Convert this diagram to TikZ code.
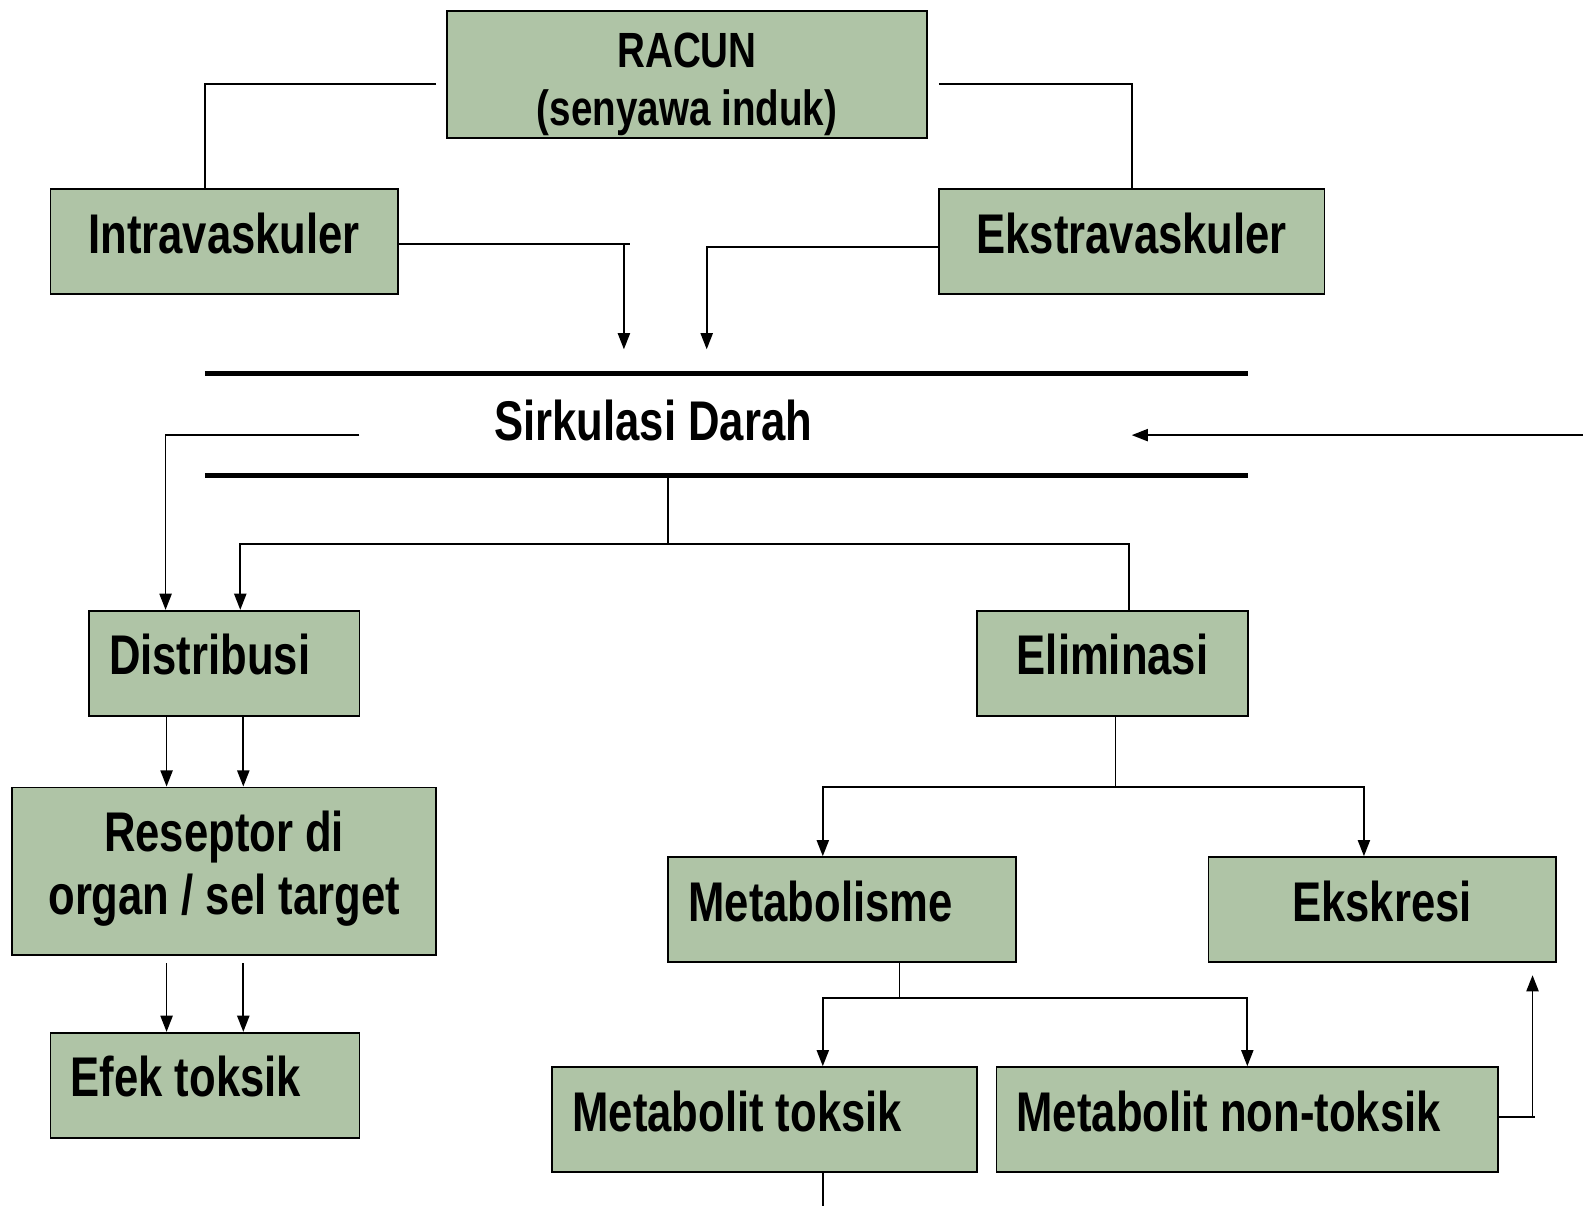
\documentclass[tikz,border=0pt]{standalone}
\usepackage{fontspec}
\setmainfont{Liberation Sans}[FakeStretch=0.78]
\usetikzlibrary{arrows.meta}
\definecolor{boxgreen}{HTML}{AFC4A6}

\begin{document}
\begin{tikzpicture}[
  x=0.5pt, y=-0.5pt,
  font=\fontsize{27.7}{31.5}\selectfont\bfseries,
  box/.style={draw=black, line width=0.9pt, fill=boxgreen, inner sep=0pt,
              align=center, minimum height=52pt,
              text height=19.8pt, text depth=8.5pt},
  boxl/.style={box, inner xsep=10pt, align=flush left, text width=#1},
  ln/.style={line width=0.9pt},
  arr/.style={ln, -{Triangle[length=8pt, width=6pt]}},
  band/.style={line width=2.6pt},
]
\path[use as bounding box, fill=white] (0,0) rectangle (1568,1194);

% ---------------- top ----------------------------------------------
\node[box, minimum width=237.5pt, minimum height=63pt, text height=50pt,
      text depth=0pt, font=\fontsize{24.5}{28.8}\selectfont\bfseries]
  (racun) at (680.5,74) {RACUN\\(senyawa induk)};
\node[box, minimum width=172pt] (intra) at (222,239.5) {Intravaskuler};
\node[box, minimum width=191pt] (ekstra) at (1121,239.5) {Ekstravaskuler};

% ---------------- blood circulation --------------------------------
\draw[band] (203,370) -- (1236,370);
\draw[band] (203,471) -- (1236,471);
\node[anchor=base] (sirk) at (647,436) {Sirkulasi Darah};

% ---------------- distribution side --------------------------------
\node[boxl=114pt] (distri) at (222,657) {Distribusi};
\node[box, minimum width=210pt, minimum height=83pt, text height=48pt,
      text depth=5pt] (resep) at (222,863) {Reseptor di\\organ / sel target};
\node[boxl=133pt] (efek) at (203,1075) {Efek toksik};

% ---------------- elimination side ---------------------------------
\node[box, minimum width=134pt] (elim) at (1102,657) {Eliminasi};
\node[boxl=152pt] (metab) at (834,901) {Metabolisme};
\node[box, minimum width=172pt] (ekskr) at (1369,901) {Ekskresi};
\node[boxl=190.5pt] (mtoks) at (757.5,1109) {Metabolit toksik};
\node[boxl=228.5pt] (mnon) at (1235.5,1109) {Metabolit non-toksik};

% ---------------- free ends ----------------------------------------
\coordinate (rl) at (432,83);
\coordinate (rr) at (930,83);
\coordinate (inA) at (618,346);
\coordinate (inB) at (700,346);
\coordinate (inR) at (1568,431);
\coordinate (inRt) at (1121,431);
\coordinate (sl) at (356,431);
\coordinate (sb) at (662,471);
\coordinate (sj) at (662,539);
\coordinate (ej) at ([xshift=1.5pt, yshift=-35pt]elim.south);
\coordinate (mj) at ([xshift=28.5pt, yshift=-17.5pt]metab.south);

% ---------------- flow ---------------------------------------------
\draw[ln] (rl) -| ([xshift=-9.5pt]intra.north);
\draw[ln] (rr) -| (ekstra.north);
\draw[ln] ([yshift=-1.25pt]intra.east) -- ++(229,0);
\draw[arr] ([yshift=-1.25pt]intra.east) -| (inA);
\draw[arr] ([yshift=-2.75pt]ekstra.west) -| (inB);
\draw[arr] (inR) -- (inRt);

\draw[arr] (sl) -| ([xshift=-29pt]distri.north);
\draw[ln] (sb) -- (sj);
\draw[arr] ([xshift=8pt]elim.north) |- ([xshift=8pt]distri.north |- sj)
  -- ([xshift=8pt]distri.north);

\foreach \dx in {-28.5,9.5}
  \draw[arr] ([xshift=\dx pt]distri.south) -- ([xshift=\dx pt]resep.north);
\foreach \dx in {-28.5,9.5}
  \draw[arr] ([xshift=\dx pt, yshift=-3.5pt]resep.south)
    -- ([xshift=\dx pt]resep.south |- efek.north);

\draw[ln] (elim.south -| ej) -- (ej);
\draw[arr] (ej) -| ([xshift=-9.5pt]metab.north);
\draw[arr] (ej) -| ([xshift=-9pt]ekskr.north);

\draw[ln] ([xshift=28.5pt]metab.south) -- (mj);
\draw[arr] (mj) -| ([xshift=28.75pt]mtoks.north);
\draw[arr] (mj) -| (mnon.north);

\draw[ln] ([yshift=1.5pt]mnon.east) -- ++(36,0);
\draw[arr] ([yshift=1.5pt]mnon.east) -| ([xshift=74.5pt, yshift=-6pt]ekskr.south);
\draw[ln] ([xshift=28.75pt]mtoks.south) -- ++(0,40);

\end{tikzpicture}
\end{document}
